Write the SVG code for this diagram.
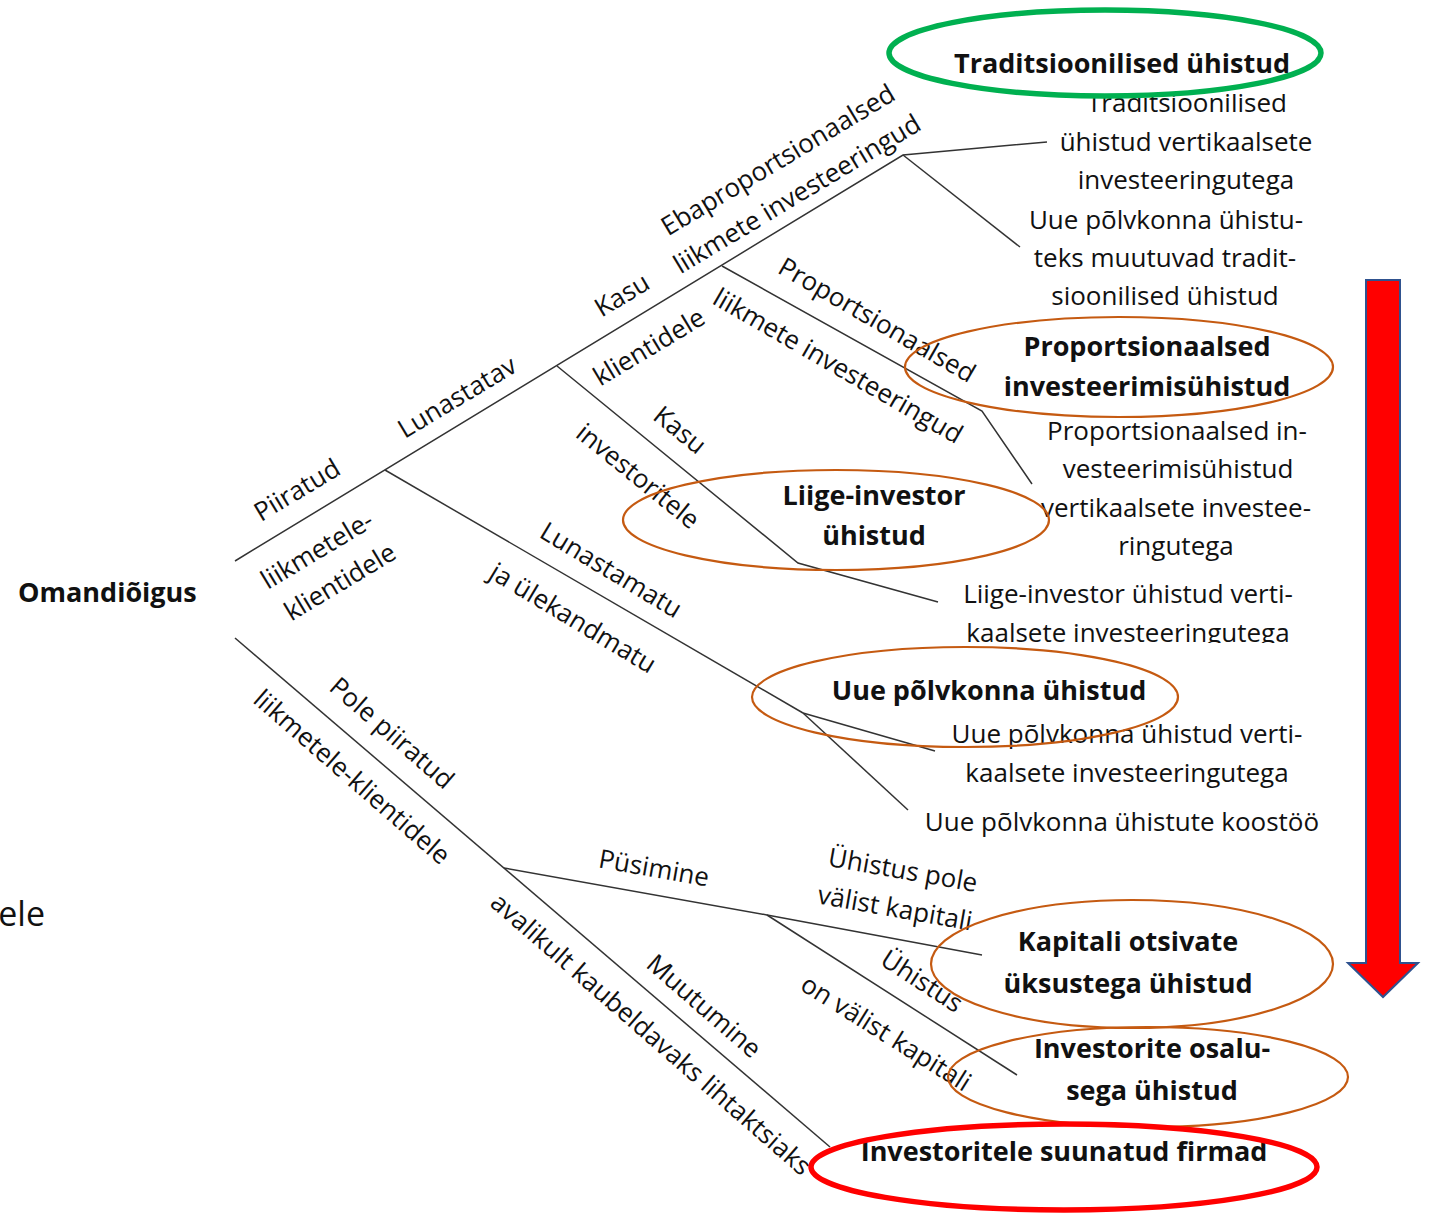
<svg xmlns="http://www.w3.org/2000/svg" width="1431" height="1215" viewBox="0 0 1431 1215">
<defs>
<style>
text{font-family:"Open Sans","Liberation Sans",sans-serif;fill:#111;font-size:26px}
.b{font-weight:bold;font-size:27px}
.c{text-anchor:middle}
.ln{stroke:#333;stroke-width:1.5;fill:none}
.oe{fill:none;stroke:#C55A11;stroke-width:2.2}
</style>
<clipPath id="clipTop"><rect x="1000" y="94" width="400" height="40"/></clipPath>
<clipPath id="clipBot"><rect x="900" y="600" width="450" height="43"/></clipPath>
</defs>
<rect width="1431" height="1215" fill="#fff"/>

<g id="connectors">
<polyline class="ln" points="235,561 903,155 1047,142"/>
<line class="ln" x1="903" y1="155" x2="1020" y2="247"/>
<polyline class="ln" points="722,266 982,411 1032,484"/>
<polyline class="ln" points="557,366 798,563 938,602"/>
<line class="ln" x1="385" y1="470" x2="803" y2="713"/>
<line class="ln" x1="803" y1="713" x2="935" y2="751"/>
<line class="ln" x1="803" y1="713" x2="908" y2="810"/>
<line class="ln" x1="235" y1="638" x2="830" y2="1147"/>
<polyline class="ln" points="504,868 767,915 982,955"/>
<line class="ln" x1="767" y1="915" x2="1017" y2="1075"/>
</g>

<g id="edge-labels">
<text class="c" transform="rotate(-31 297 490)" x="297" y="499">Piiratud</text>
<text class="c" transform="rotate(-31 317 550)" x="317" y="559">liikmetele-</text>
<text class="c" transform="rotate(-31 340 582)" x="340" y="591">klientidele</text>
<text class="c" transform="rotate(-31 457 397)" x="457" y="406">Lunastatav</text>
<text class="c" transform="rotate(-31 622 295)" x="622" y="304">Kasu</text>
<text class="c" transform="rotate(-31 649 347)" x="649" y="356">klientidele</text>
<text class="c" transform="rotate(-31 778 160)" x="778" y="169">Ebaproportsionaalsed</text>
<text class="c" transform="rotate(-31 797 194)" x="797" y="203">liikmete investeeringud</text>
<text class="c" transform="rotate(30 877 320)" x="877" y="329">Proportsionaalsed</text>
<text class="c" transform="rotate(30 838 366)" x="838" y="375">liikmete investeeringud</text>
<text class="c" transform="rotate(39 680 430)" x="680" y="439">Kasu</text>
<text class="c" transform="rotate(39 638 476)" x="638" y="485">investoritele</text>
<text class="c" transform="rotate(31 611 570)" x="611" y="579">Lunastamatu</text>
<text class="c" transform="rotate(31 573 618)" x="573" y="627">ja ülekandmatu</text>
<text class="c" transform="rotate(41 392 733)" x="392" y="742">Pole piiratud</text>
<text class="c" transform="rotate(41 352 777)" x="352" y="786">liikmetele-klientidele</text>
<text class="c" transform="rotate(41 651 1034)" x="651" y="1043">avalikult kaubeldavaks lihtaktsiaks</text>
<text class="c" transform="rotate(41 704 1006)" x="704" y="1015">Muutumine</text>
<text class="c" transform="rotate(10 654 868)" x="654" y="877">Püsimine</text>
<text class="c" transform="rotate(10 903 870)" x="903" y="879">Ühistus pole</text>
<text class="c" transform="rotate(10 895 908)" x="895" y="917">välist kapitali</text>
<text class="c" transform="rotate(33 922 981)" x="922" y="990">Ühistus</text>
<text class="c" transform="rotate(32 886 1033)" x="886" y="1042">on välist kapitali</text>
</g>

<g id="n-omandioigus">
<text class="b" x="18" y="602">Omandiõigus</text>
</g>
<g id="n-ele">
<text x="45" y="926" style="font-size:34px;text-anchor:end">ele</text>
</g>

<g id="n-trad-vert">
<g clip-path="url(#clipTop)"><text class="c" x="1187" y="112">Traditsioonilised</text></g>
<text class="c" x="1186" y="151">ühistud vertikaalsete</text>
<text class="c" x="1186" y="189">investeeringutega</text>
</g>
<g id="n-uue-trad">
<text class="c" x="1166" y="229">Uue põlvkonna ühistu-</text>
<text class="c" x="1165" y="267">teks muutuvad tradit-</text>
<text class="c" x="1165" y="305">sioonilised ühistud</text>
</g>
<g id="n-prop-vert">
<text class="c" x="1177" y="440">Proportsionaalsed in-</text>
<text class="c" x="1178" y="478">vesteerimisühistud</text>
<text class="c" x="1176" y="517">vertikaalsete investee-</text>
<text class="c" x="1176" y="555">ringutega</text>
</g>
<g id="n-liige-vert">
<text class="c" x="1128" y="603">Liige-investor ühistud verti-</text>
<g clip-path="url(#clipBot)"><text class="c" x="1128" y="642">kaalsete investeeringutega</text></g>
</g>
<g id="n-uue-vert">
<text class="c" x="1127" y="743">Uue põlvkonna ühistud verti-</text>
<text class="c" x="1127" y="782">kaalsete investeeringutega</text>
</g>
<g id="n-uue-koostoo">
<text class="c" x="1122" y="831">Uue põlvkonna ühistute koostöö</text>
</g>

<g id="n-traditsioonilised">
<text class="b c" x="1122" y="73">Traditsioonilised ühistud</text>
<ellipse cx="1105" cy="53" rx="216" ry="43" fill="none" stroke="#00B050" stroke-width="5.5"/>
</g>
<g id="n-proportsionaalsed">
<text class="b c" x="1147" y="356">Proportsionaalsed</text>
<text class="b c" x="1147" y="396">investeerimisühistud</text>
<ellipse class="oe" cx="1119" cy="367" rx="214" ry="50"/>
</g>
<g id="n-liige">
<text class="b c" x="874" y="505">Liige-investor</text>
<text class="b c" x="874" y="545">ühistud</text>
<ellipse class="oe" cx="836" cy="520" rx="213" ry="50"/>
</g>
<g id="n-uue">
<text class="b c" x="989" y="700">Uue põlvkonna ühistud</text>
<ellipse class="oe" cx="965" cy="697" rx="213" ry="50"/>
</g>
<g id="n-kapitali">
<text class="b c" x="1128" y="951">Kapitali otsivate</text>
<text class="b c" x="1128" y="993">üksustega ühistud</text>
<ellipse class="oe" cx="1132" cy="964" rx="201" ry="64"/>
</g>
<g id="n-osalu">
<text class="b c" x="1152" y="1058">Investorite osalu-</text>
<text class="b c" x="1152" y="1100">sega ühistud</text>
<ellipse class="oe" cx="1148" cy="1077" rx="200" ry="50"/>
</g>
<g id="n-firmad">
<text class="b c" x="1064" y="1161">Investoritele suunatud firmad</text>
<ellipse cx="1064" cy="1167" rx="253" ry="43" fill="none" stroke="#FF0000" stroke-width="5.5"/>
</g>

<g id="n-arrow">
<polygon points="1366,280 1400,280 1400,963 1418,963 1383,997 1348,963 1366,963" fill="#FF0000" stroke="#2F528F" stroke-width="2"/>
</g>
</svg>
